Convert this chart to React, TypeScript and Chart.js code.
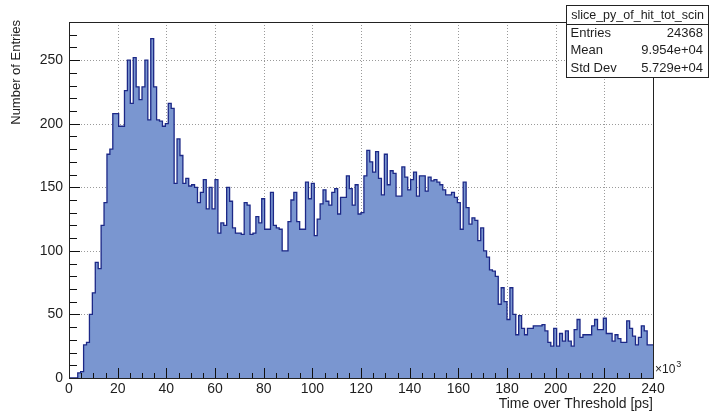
import { useEffect, useRef } from "react";
import { Chart, registerables } from "chart.js";

Chart.register(...registerables);

// Histogram binning (x in units of 10^3 ps)
const BIN_LOW = 0;
const BIN_WIDTH = 1.2;

// Bin contents of the ToT projection
const counts = [
  0, 0, 0, 0, 4, 5, 26, 28, 50, 67,
  91, 86, 120, 138, 176, 180, 208, 208, 198, 198,
  226, 250, 216, 252, 229, 219, 229, 250, 203, 267,
  229, 203, 202, 198, 200, 216, 212, 153, 188, 175,
  153, 157, 151, 152, 150, 138, 146, 156, 133, 150,
  133, 156, 114, 122, 120, 150, 139, 118, 114, 114,
  113, 138, 136, 113, 114, 127, 122, 141, 117, 117,
  146, 120, 118, 117, 100, 100, 123, 140, 146, 123,
  117, 117, 154, 141, 153, 112, 125, 137, 148, 139,
  136, 146, 149, 129, 142, 142, 159, 149, 136, 152,
  129, 130, 159, 179, 170, 162, 178, 157, 144, 176,
  152, 163, 161, 143, 143, 166, 158, 148, 156, 162,
  143, 159, 159, 147, 158, 155, 156, 154, 152, 148,
  144, 144, 146, 142, 138, 117, 154, 134, 121, 126,
  124, 108, 118, 100, 95, 85, 84, 80, 58, 71,
  60, 46, 71, 50, 34, 49, 39, 34, 39, 39,
  41, 41, 41, 42, 37, 28, 25, 39, 25, 35,
  29, 37, 29, 25, 38, 46, 32, 34, 34, 34,
  41, 46, 38, 38, 47, 35, 35, 29, 34, 31,
  28, 28, 45, 39, 33, 26, 32, 41, 37, 26,
];

const xMajorTicks = [0, 20, 40, 60, 80, 100, 120, 140, 160, 180, 200, 220, 240];
const yMajorTicks = [0, 50, 100, 150, 200, 250];
const X_MIN = 0;
const X_MAX = 240;
const Y_MAX = 280;

const xTitle = "Time over Threshold [ps]";
const yTitle = "Number of Entries";
const statsName = "slice_py_of_hit_tot_scin";
const statsLabels = ["Entries", "Mean", "Std Dev"];
const statsValues = ["24368", "9.954e+04", "5.729e+04"];

const FONT = '"Liberation Sans", Arial, Helvetica, sans-serif';
const TEXT = "#1e1e1e";

const rootDecorations = {
  id: "rootDecorations",
  beforeDatasetsDraw(chart: any) {
    const { ctx, chartArea: a, scales } = chart;
    const xs = scales.x;
    const ys = scales.y;
    ctx.save();
    ctx.strokeStyle = "#9a9a9a";
    ctx.lineWidth = 1;
    ctx.setLineDash([1, 2]);
    xMajorTicks.forEach((v) => {
      if (v <= X_MIN || v >= X_MAX) return;
      const px = Math.round(xs.getPixelForValue(v)) + 0.5;
      ctx.beginPath();
      ctx.moveTo(px, a.top);
      ctx.lineTo(px, a.bottom);
      ctx.stroke();
    });
    yMajorTicks.forEach((v) => {
      if (v <= 0) return;
      const py = Math.round(ys.getPixelForValue(v)) + 0.5;
      ctx.beginPath();
      ctx.moveTo(a.left, py);
      ctx.lineTo(a.right, py);
      ctx.stroke();
    });
    ctx.restore();
  },
  afterDatasetsDraw(chart: any) {
    const { ctx, chartArea: a, scales } = chart;
    const xs = scales.x;
    const ys = scales.y;
    ctx.save();
    ctx.setLineDash([]);
    ctx.strokeStyle = "#111";
    ctx.lineWidth = 1;

    // x ticks: major every 20, minor every 5, pointing up from the bottom
    for (let v = X_MIN; v <= X_MAX; v += 5) {
      const px = Math.round(xs.getPixelForValue(v)) + 0.5;
      const len = v % 20 === 0 ? 10 : 5;
      ctx.beginPath();
      ctx.moveTo(px, a.bottom);
      ctx.lineTo(px, a.bottom - len);
      ctx.stroke();
    }
    // y ticks: major every 50, minor every 10, pointing right from the left
    for (let v = 0; v <= Y_MAX; v += 10) {
      const py = Math.round(ys.getPixelForValue(v)) + 0.5;
      const len = v % 50 === 0 ? 11 : 8;
      ctx.beginPath();
      ctx.moveTo(a.left, py);
      ctx.lineTo(a.left + len, py);
      ctx.stroke();
    }

    // frame
    ctx.strokeStyle = "#222";
    ctx.strokeRect(Math.round(a.left) + 0.5, Math.round(a.top) + 0.5,
      Math.round(a.right - a.left), Math.round(a.bottom - a.top));

    // tick labels
    ctx.fillStyle = TEXT;
    ctx.font = `14px ${FONT}`;
    ctx.textAlign = "center";
    ctx.textBaseline = "top";
    xMajorTicks.forEach((v) => {
      ctx.fillText(String(v), xs.getPixelForValue(v), a.bottom + 4);
    });
    ctx.textAlign = "right";
    ctx.textBaseline = "middle";
    yMajorTicks.forEach((v) => {
      ctx.fillText(String(v), a.left - 6, ys.getPixelForValue(v));
    });

    // exponent marker
    ctx.textAlign = "left";
    ctx.textBaseline = "middle";
    ctx.font = `12px ${FONT}`;
    ctx.fillText("×10", a.right + 2, a.bottom - 8);
    const w = ctx.measureText("×10").width;
    ctx.font = `9px ${FONT}`;
    ctx.fillText("3", a.right + 2 + w + 1, a.bottom - 13);

    // axis titles
    ctx.font = `14px ${FONT}`;
    ctx.textAlign = "right";
    ctx.textBaseline = "middle";
    ctx.fillText(xTitle, a.right, 404);

    ctx.save();
    ctx.translate(16, a.top - 2);
    ctx.rotate(-Math.PI / 2);
    ctx.font = `13px ${FONT}`;
    ctx.textAlign = "right";
    ctx.textBaseline = "middle";
    ctx.fillText(yTitle, 0, 0);
    ctx.restore();

    // statistics box
    const bx = 566.5, by = 5.5, bw = 142, bh = 72, hdr = 19;
    ctx.fillStyle = "#fff";
    ctx.fillRect(bx, by, bw, bh);
    ctx.strokeStyle = "#222";
    ctx.strokeRect(bx, by, bw, bh);
    ctx.beginPath();
    ctx.moveTo(bx, by + hdr);
    ctx.lineTo(bx + bw, by + hdr);
    ctx.stroke();
    ctx.fillStyle = TEXT;
    ctx.font = `12.5px ${FONT}`;
    ctx.textAlign = "center";
    ctx.textBaseline = "middle";
    ctx.fillText(statsName, bx + bw / 2, by + hdr / 2 + 0.5);
    ctx.font = `13px ${FONT}`;
    const rowY = [33, 50.5, 68.5];
    statsLabels.forEach((lab, i) => {
      ctx.textAlign = "left";
      ctx.fillText(lab, bx + 4, rowY[i]);
      ctx.textAlign = "right";
      ctx.fillText(statsValues[i], 703, rowY[i]);
    });
    ctx.restore();
  },
};

export default function App() {
  const canvasRef = useRef<HTMLCanvasElement | null>(null);

  useEffect(() => {
    const canvas = canvasRef.current;
    if (!canvas) return;
    const points = counts.map((c, i) => ({ x: BIN_LOW + i * BIN_WIDTH, y: c }));
    points.push({ x: BIN_LOW + counts.length * BIN_WIDTH, y: counts[counts.length - 1] });

    const chart = new Chart(canvas, {
      type: "line",
      data: {
        datasets: [
          {
            data: points,
            stepped: "after",
            fill: "origin",
            backgroundColor: "rgb(122,150,208)",
            borderColor: "rgb(28,40,135)",
            borderWidth: 1.3,
            pointRadius: 0,
          },
        ],
      },
      options: {
        responsive: false,
        animation: false,
        events: [],
        layout: { padding: { left: 69, right: 57, top: 22, bottom: 34 } },
        plugins: { legend: { display: false }, tooltip: { enabled: false }, title: { display: false } },
        scales: {
          x: { type: "linear", min: X_MIN, max: X_MAX, display: false },
          y: { type: "linear", min: 0, max: Y_MAX, display: false },
        },
      },
      plugins: [rootDecorations],
    });
    return () => chart.destroy();
  }, []);

  return (
    <div style={{ position: "fixed", left: 0, top: 0, width: 710, height: 412, background: "#fff" }}>
      <canvas ref={canvasRef} width={710} height={412} style={{ display: "block" }} />
    </div>
  );
}
